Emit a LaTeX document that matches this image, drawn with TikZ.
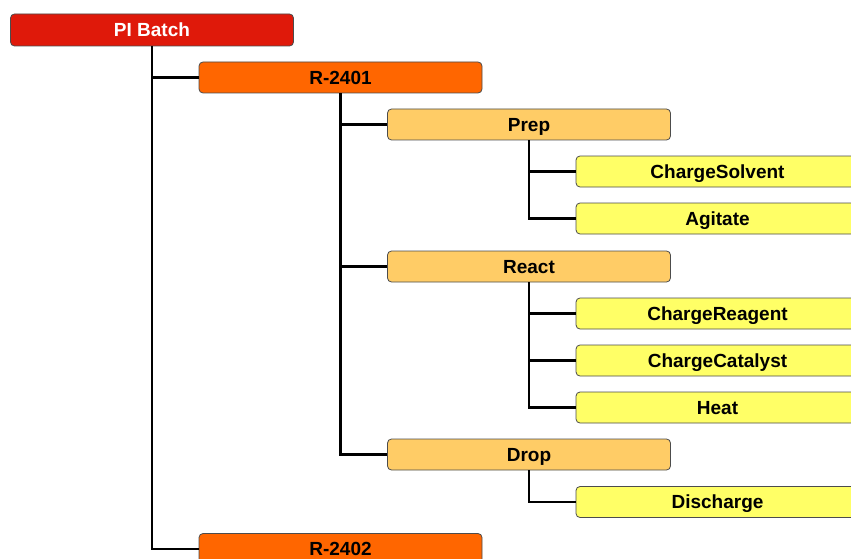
\documentclass[tikz,border=0pt]{standalone}
\usepackage{fontspec}
\setmainfont{Liberation Sans}
\usepackage{xcolor}
\definecolor{batchred}{HTML}{DF190A}
\definecolor{unitorange}{HTML}{FF6600}
\definecolor{opbuff}{HTML}{FFCC66}
\definecolor{phaseyellow}{HTML}{FFFF66}

\begin{document}
\begin{tikzpicture}[x=1pt, y=-1pt,
  box/.style={draw=black!70, line width=0.8pt, rounded corners=4pt,
    minimum width=283pt, minimum height=31pt, inner sep=0pt,
    text height=13.6pt, text depth=0pt, font=\fontsize{19}{21}\selectfont\bfseries},
  link/.style={line width=2.2pt}]
\useasboundingbox (0,0) rectangle (851,559);
\clip (0,0) rectangle (851,559);
% procedure
\node[box, fill=batchred, text=white, minimum height=32pt] (batch) at (152,30) {PI Batch};
% unit procedures
\node[box, fill=unitorange] (r2401) at (340.5,77.5) {R-2401};
\node[box, fill=unitorange] (r2402) at (340.5,549) {R-2402};
% operations
\node[box, fill=opbuff] (prep)  at (529,124.5) {Prep};
\node[box, fill=opbuff] (react) at (529,266.5) {React};
\node[box, fill=opbuff] (drop)  at (529,454.5) {Drop};
% phases
\foreach \name/\lab/\y in {csolv/ChargeSolvent/171.5, agit/Agitate/218.5,
    creag/ChargeReagent/313.5, ccat/ChargeCatalyst/360.5, heat/Heat/407.5,
    disch/Discharge/502}
  {\node[box, fill=phaseyellow] (\name) at (717.5,\y) {\lab};}
% tree links
\foreach \p/\c in {batch/r2401, batch/r2402,
    r2401/prep, r2401/react, r2401/drop,
    prep/csolv, prep/agit,
    react/creag, react/ccat, react/heat,
    drop/disch}
  {\draw[link] (\p.south) |- (\c.west);}
\end{tikzpicture}
\end{document}
